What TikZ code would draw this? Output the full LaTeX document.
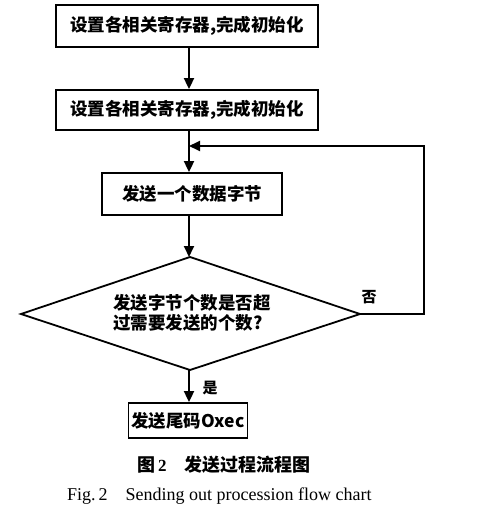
\documentclass[tikz,border=0pt]{standalone}
\usepackage{fontspec}
\setmainfont{Liberation Serif}
\newfontfamily\cjk{Noto Sans CJK SC}
\usetikzlibrary{arrows.meta}
\begin{document}
\begin{tikzpicture}[x=1pt,y=-1pt,
  box/.style={draw,line width=1.8pt,inner sep=0pt,font=\cjk\bfseries\fontsize{17.5}{20}\selectfont},
  dtext/.style={inner sep=0pt,font=\cjk\bfseries\fontsize{17.5}{20}\selectfont,align=left},
  conn/.style={line width=1.8pt},
  arr/.style={conn,-{Triangle[length=11pt,width=10pt]}},
  lbl/.style={font=\cjk\bfseries\fontsize{15}{16}\selectfont,inner sep=0pt}]
\useasboundingbox (0,0) rectangle (492,525);
\node[box,minimum width=262pt,minimum height=42pt] (b1) at (187,26) {设置各相关寄存器,完成初始化};
\node[box,minimum width=262pt,minimum height=40pt] (b2) at (187,110) {设置各相关寄存器,完成初始化};
\node[box,minimum width=180pt,minimum height=42pt] (b3) at (192,194) {发送一个数据字节};
\coordinate (dt) at (190,257);
\coordinate (dr) at (360,314);
\coordinate (db) at (190,370);
\coordinate (dl) at (21,314);
\draw[conn,line join=miter] (dt) -- (dr) -- (db) -- (dl) -- cycle;
\node[dtext] (d) at (192,313) {发送字节个数是否超\\过需要发送的个数?};
\node[box,minimum width=119pt,minimum height=35pt] (b4) at (188,420.5) {发送尾码Oxec};
\coordinate (j) at (189,146);
\coordinate (r1) at (424,314);
\coordinate (r2) at (424,146);
\draw[arr] (b1.south -| j) -- (b2.north -| j);
\draw[conn] (b2.south -| j) -- (j);
\draw[arr] (j) -- (b3.north -| j);
\draw[arr] (b3.south -| j) -- (dt -| j);
\draw[arr] (db -| j) -- (b4.north -| j);
\draw[conn,line join=miter] (dr) -- (r1) -- (r2) -- (200,146);
\draw[arr] (r2) -- (j);
\node[lbl] (no) at (369,297) {否};
\node[lbl] (yes) at (210,388) {是};
\node[anchor=west,inner sep=0pt] (cap1) at (137,465) {{\cjk\bfseries\fontsize{18}{20}\selectfont 图}\hspace{3pt}{\bfseries\fontsize{17}{20}\selectfont 2}\hspace{18pt}{\cjk\bfseries\fontsize{18}{20}\selectfont 发送过程流程图}};
\node[font=\fontsize{18}{20}\selectfont,anchor=west,inner sep=0pt] (cap2) at (67,496) {Fig.\,2\hspace{18pt}Sending out procession flow chart};
\end{tikzpicture}
\end{document}
